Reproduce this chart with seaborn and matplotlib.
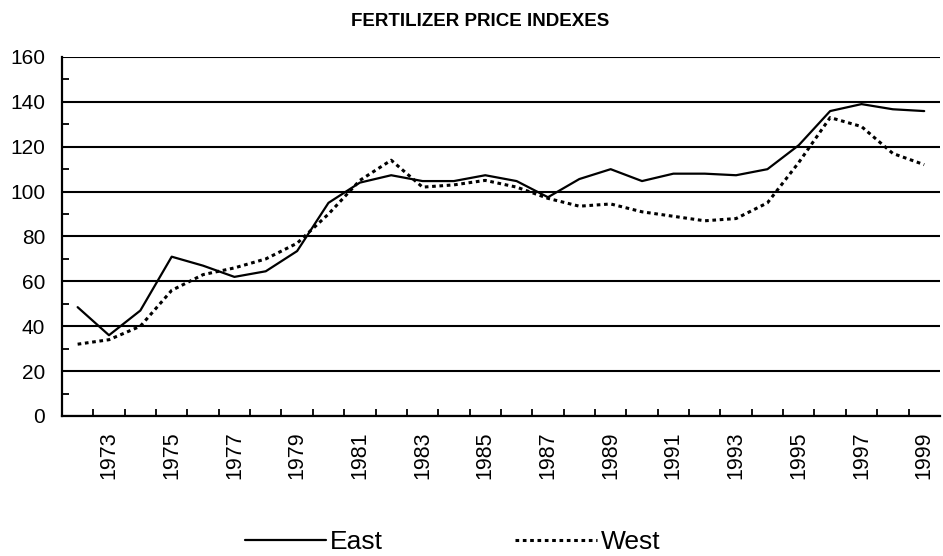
import matplotlib
matplotlib.use("Agg")
import matplotlib.pyplot as plt
import seaborn as sns
import pandas as pd
import numpy as np

years = list(range(1972, 2000))
east = [48.5, 36, 47, 71, 67, 62, 64.5, 73.5, 95, 104, 107.3, 104.7, 104.7, 107.3,
        104.7, 97.5, 105.6, 110, 104.7, 108, 108, 107.3, 110, 120.7, 135.9, 139, 136.7, 135.9]
west = [32, 34, 40, 56, 63, 66, 70, 77, 90, 105, 114, 102, 103, 105,
        102, 97, 93.5, 94.5, 91, 89, 87, 88, 95, 113, 133, 129, 117, 112]
title = "FERTILIZER PRICE INDEXES"
series_names = ["East", "West"]

sns.set_theme(style="white")
plt.rcParams['font.family'] = ['Liberation Sans', 'DejaVu Sans']
plt.rcParams['text.color'] = 'black'
plt.rcParams['xtick.color'] = 'black'
plt.rcParams['ytick.color'] = 'black'

df = pd.DataFrame({"Year": years * 2,
                   "Index": east + west,
                   "Series": [series_names[0]] * len(years) + [series_names[1]] * len(years)})

fig = plt.figure(figsize=(9.43, 5.56), dpi=100)
ax = fig.add_axes([0.0657, 0.2518, 0.9310, 0.6457])

sns.lineplot(data=df, x="Year", y="Index", hue="Series", style="Series",
             palette={"East": "black", "West": "black"},
             dashes={"East": "", "West": (1.2, 1.2)},
             linewidth=1.6, ax=ax, legend=False)

ax.lines[1].set_linewidth(2.2)

ax.set_xlim(1971.5, 1999.5)
ax.set_ylim(0, 160)
ax.set_xlabel("")
ax.set_ylabel("")

ax.set_yticks(np.arange(0, 161, 20))
ax.set_yticks(np.arange(10, 160, 20), minor=True)
ax.yaxis.grid(True, which="major", color="black", linewidth=1.5)
ax.set_axisbelow(True)

odd_years = [y for y in years if y % 2 == 1]
ax.set_xticks(odd_years)
ax.set_xticklabels([str(y) for y in odd_years], rotation=90)
ax.set_xticks(np.arange(1972.5, 1999.5, 1.0), minor=True)

ax.tick_params(axis="x", which="major", length=0, pad=11, labelsize=15.5, labelcolor="black")
ax.tick_params(axis="x", which="minor", direction="in", length=5, width=1.3, color="black", bottom=True)
ax.tick_params(axis="y", which="major", length=0, pad=12, labelsize=15, labelcolor="black")
ax.tick_params(axis="y", which="minor", direction="in", length=5, width=1.3, color="black", left=True)

for side in ["top", "right"]:
    ax.spines[side].set_visible(False)
for side in ["left", "bottom"]:
    ax.spines[side].set_visible(True)
    ax.spines[side].set_color("black")
    ax.spines[side].set_linewidth(1.6)

fig.text(0.509, 0.962, title, ha="center", va="center", fontsize=13.5,
         fontweight="bold", color="black")

handles = [plt.Line2D([], [], color="black", linewidth=1.6),
           plt.Line2D([], [], color="black", linewidth=2.2, linestyle=(0, (1.2, 1.2)))]
leg = fig.legend(handles, series_names, loc="center", bbox_to_anchor=(0.48, 0.025), ncol=2,
                 frameon=False, fontsize=19, handlelength=3.1, handletextpad=0.15,
                 columnspacing=5.0, borderpad=0, borderaxespad=0)
for t in leg.get_texts():
    t.set_color("black")

fig.savefig("out.png", dpi=100)
